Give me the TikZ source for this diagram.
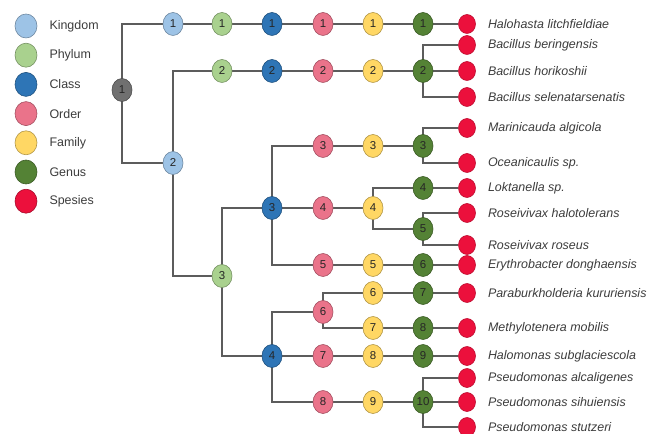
\documentclass[tikz,border=0pt]{standalone}
\usepackage{fontspec}
\setmainfont{Liberation Sans}
\usepackage{tikz}
\usetikzlibrary{shapes.geometric,positioning,backgrounds}
\definecolor{myroot}{RGB}{112,112,112}
\definecolor{mykingdom}{RGB}{157,195,230}
\definecolor{myphylum}{RGB}{169,209,142}
\definecolor{myclass}{RGB}{46,117,182}
\definecolor{myorder}{RGB}{234,115,138}
\definecolor{myfamily}{RGB}{255,215,100}
\definecolor{mygenus}{RGB}{84,130,53}
\definecolor{myspecies}{RGB}{236,16,60}
\definecolor{myline}{RGB}{92,92,92}
\definecolor{mytext}{RGB}{60,60,60}

\begin{document}
\begin{tikzpicture}[
  x=1bp, y=-1bp,
  taxon/.style={
    ellipse,
    draw=#1!70!black,
    fill=#1,
    line width=0.6bp,
    minimum width=20bp,
    minimum height=23bp,
    inner sep=0pt,
    text=black!85,
    font=\fontsize{11.5}{11.5}\selectfont
    },
  spdot/.style={
    ellipse,
    draw=myspecies!80!black,
    fill=myspecies,
    line width=0.6bp,
    minimum width=17bp,
    minimum height=19bp,
    inner sep=0pt
    },
  legdot/.style={
    ellipse,
    draw=#1!70!black,
    fill=#1,
    line width=0.6bp,
    minimum width=22bp,
    minimum height=24bp,
    inner sep=0pt
    },
  legtext/.style={
    inner sep=0pt,
    text=mytext,
    font=\fontsize{12.5}{12.5}\selectfont
    },
  sptext/.style={
    inner sep=0pt,
    text=mytext,
    font=\fontsize{12.5}{12.5}\selectfont\itshape
    },
  branch/.style={
    draw=myline,
    line width=1.3bp
    }
]
\useasboundingbox (0,0) rectangle (659,434);

% legend
\foreach \Col/\Rank [count=\i from 1] in {mykingdom/Kingdom, myphylum/Phylum, myclass/Class,
    myorder/Order, myfamily/Family, mygenus/Genus, myspecies/Spesies}
{
  \node[legdot=\Col] (leg\i) at (26,{26+29.2*(\i-1)}) {};
  \node[legtext, anchor=west, right=12bp of leg\i] (legl\i) {\Rank};
}

% tree
\node[taxon=myroot] (root) at (122,90) {1};
\node[taxon=mykingdom] (K1) at (173,24) {1};
\node[taxon=mykingdom] (K2) at (173,163) {2};
\foreach \y [count=\i from 1] in {24,71,276}
  \node[taxon=myphylum] (P\i) at (222,\y) {\i};
\foreach \y [count=\i from 1] in {24,71,208,356}
  \node[taxon=myclass] (C\i) at (272,\y) {\i};
\foreach \y [count=\i from 1] in {24,71,146,208,265,312,356,402}
  \node[taxon=myorder] (O\i) at (323,\y) {\i};
\foreach \y [count=\i from 1] in {24,71,146,208,265,293,328,356,402}
  \node[taxon=myfamily] (F\i) at (373,\y) {\i};
\foreach \y [count=\i from 1] in {24,71,146,188,229,265,293,328,356,402}
  \node[taxon=mygenus] (G\i) at (423,\y) {\i};

% species
\foreach \y/\Name [count=\i from 1] in {
    24/Halohasta litchfieldiae,
    45/Bacillus beringensis,
    71/Bacillus horikoshii,
    97/Bacillus selenatarsenatis,
    128/Marinicauda algicola,
    163/Oceanicaulis sp.,
    188/Loktanella sp.,
    213/Roseivivax halotolerans,
    245/Roseivivax roseus,
    265/Erythrobacter donghaensis,
    293/Paraburkholderia kururiensis,
    328/Methylotenera mobilis,
    356/Halomonas subglaciescola,
    378/Pseudomonas alcaligenes,
    402/Pseudomonas sihuiensis,
    427/Pseudomonas stutzeri}
{
  \node[spdot] (S\i) at (467,\y) {};
  \node[sptext, anchor=west, right=12bp of S\i] (L\i) {\Name};
}

% branches
\begin{scope}[on background layer]
\foreach \a/\b in {root/K1, root/K2, K1/P1, K2/P2, K2/P3,
    P1/C1, P2/C2, P3/C3, P3/C4,
    C1/O1, C2/O2, C3/O3, C3/O4, C3/O5, C4/O6, C4/O7, C4/O8,
    O1/F1, O2/F2, O3/F3, O4/F4, O5/F5, O6/F6, O6/F7, O7/F8, O8/F9,
    F1/G1, F2/G2, F3/G3, F4/G4, F4/G5, F5/G6, F6/G7, F7/G8, F8/G9, F9/G10,
    G1/S1, G2/S2, G2/S3, G2/S4, G3/S5, G3/S6, G4/S7, G5/S8, G5/S9,
    G6/S10, G7/S11, G8/S12, G9/S13, G10/S14, G10/S15, G10/S16}
  \draw[branch] (\a.center) |- (\b);
\end{scope}

\end{tikzpicture}
\end{document}
